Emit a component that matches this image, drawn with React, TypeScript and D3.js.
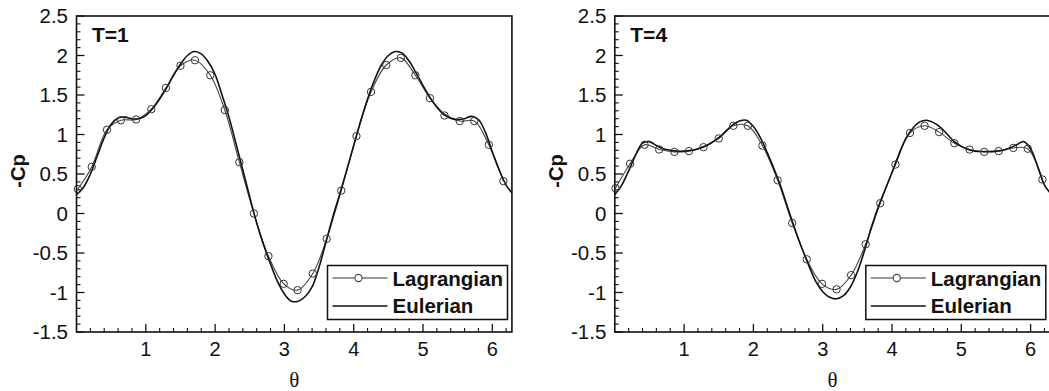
import React from 'react';
import * as d3 from 'd3';

// ---------- data ----------
const THETA_E = [
  0.0, 0.1, 0.2, 0.3, 0.4, 0.5, 0.6, 0.7, 0.8, 0.9,
  1.0, 1.1, 1.2, 1.3, 1.4, 1.5, 1.6, 1.7, 1.8, 1.9,
  2.0, 2.1, 2.2, 2.3, 2.4, 2.5, 2.6, 2.7, 2.8, 2.9,
  3.0, 3.1, 3.2, 3.3, 3.4, 3.5, 3.6, 3.7, 3.8, 3.9,
  4.0, 4.1, 4.2, 4.3, 4.4, 4.5, 4.6, 4.7, 4.8, 4.9,
  5.0, 5.1, 5.2, 5.3, 5.4, 5.5, 5.6, 5.7, 5.8, 5.9,
  6.0, 6.1, 6.2, 6.283,
];

const CP_EULER_T1 = [
  0.24, 0.33, 0.50, 0.73, 0.96, 1.13, 1.21, 1.22, 1.20, 1.20,
  1.24, 1.33, 1.45, 1.59, 1.75, 1.89, 2.00, 2.05, 2.02, 1.92,
  1.76, 1.50, 1.22, 0.89, 0.55, 0.21, -0.12, -0.40, -0.64, -0.86,
  -1.02, -1.11, -1.11, -1.05, -0.93, -0.68, -0.36, -0.04, 0.25, 0.55,
  0.86, 1.17, 1.45, 1.69, 1.88, 2.00, 2.05, 2.03, 1.93, 1.78,
  1.62, 1.47, 1.35, 1.26, 1.21, 1.19, 1.20, 1.23, 1.19, 1.03,
  0.78, 0.55, 0.36, 0.26,
];

const CP_EULER_T4 = [
  0.24, 0.36, 0.54, 0.74, 0.89, 0.91, 0.86, 0.82, 0.80, 0.79,
  0.79, 0.80, 0.82, 0.85, 0.90, 0.96, 1.04, 1.12, 1.17, 1.18,
  1.10, 0.96, 0.77, 0.56, 0.33, 0.06, -0.20, -0.44, -0.66, -0.86,
  -0.99, -1.06, -1.08, -1.04, -0.93, -0.74, -0.48, -0.18, 0.08, 0.30,
  0.52, 0.75, 0.95, 1.08, 1.16, 1.18, 1.15, 1.09, 1.00, 0.91,
  0.85, 0.81, 0.79, 0.785, 0.785, 0.79, 0.80, 0.83, 0.87, 0.91,
  0.82, 0.60, 0.36, 0.26,
];

const THETA_LAG_T1 = [
  0.02, 0.22, 0.44, 0.64, 0.86, 1.08, 1.29, 1.50, 1.71, 1.93,
  2.14, 2.35, 2.56, 2.77, 2.99, 3.19, 3.41, 3.61, 3.82, 4.04,
  4.25, 4.47, 4.68, 4.89, 5.10, 5.31, 5.53, 5.74, 5.95, 6.16,
];
const CP_LAG_T1 = [
  0.31, 0.59, 1.06, 1.18, 1.19, 1.32, 1.59, 1.87, 1.94, 1.75,
  1.31, 0.65, 0.00, -0.54, -0.89, -0.97, -0.76, -0.32, 0.29, 0.98,
  1.54, 1.88, 1.97, 1.75, 1.46, 1.24, 1.17, 1.17, 0.87, 0.41,
];

const THETA_LAG_T4 = [
  0.01, 0.22, 0.43, 0.64, 0.86, 1.07, 1.28, 1.50, 1.71, 1.92,
  2.13, 2.35, 2.56, 2.77, 2.99, 3.20, 3.41, 3.62, 3.83, 4.05,
  4.26, 4.47, 4.68, 4.90, 5.12, 5.33, 5.54, 5.75, 5.96, 6.17,
];
const CP_LAG_T4 = [
  0.32, 0.63, 0.87, 0.81, 0.78, 0.79, 0.84, 0.95, 1.11, 1.11,
  0.86, 0.42, -0.12, -0.58, -0.89, -0.96, -0.78, -0.39, 0.13, 0.62,
  1.02, 1.11, 1.03, 0.89, 0.81, 0.78, 0.79, 0.83, 0.82, 0.43,
];

const Y_TICKS = [-1.5, -1, -0.5, 0, 0.5, 1, 1.5, 2, 2.5];
const Y_TICK_LABELS = ['-1.5', '-1', '-0.5', '0', '0.5', '1', '1.5', '2', '2.5'];
const X_TICKS = [1, 2, 3, 4, 5, 6];
const X_TICK_LABELS = ['1', '2', '3', '4', '5', '6'];
const PANEL_LABELS = ['T=1', 'T=4'];
const SERIES_NAMES = ['Lagrangian', 'Eulerian'];
const X_TITLE = 'θ';
const Y_TITLE = '-Cp';

// ---------- layout ----------
const W = 1049;
const H = 391;
const PW = 2 * Math.PI * 69.3;
const TOP = 16;
const BOTTOM = 332;
const PANEL_X = [76.5, 614.8];
const SANS = '"Liberation Sans", Arial, Helvetica, sans-serif';
const SERIF = '"Liberation Serif", "Times New Roman", serif';

type PanelProps = {
  idx: number;
  x0: number;
  label: string;
  cpE: number[];
  thetaL: number[];
  cpL: number[];
};

function Panel({ idx, x0, label, cpE, thetaL, cpL }: PanelProps) {
  const x = d3.scaleLinear().domain([0, 2 * Math.PI]).range([x0, x0 + PW]);
  const y = d3.scaleLinear().domain([-1.5, 2.5]).range([BOTTOM, TOP]);

  const eData = THETA_E.map((t, i) => [t, cpE[i]] as [number, number]);
  const lData = thetaL.map((t, i) => [t, cpL[i]] as [number, number]);

  const line = d3
    .line<[number, number]>()
    .x((d) => x(d[0]))
    .y((d) => y(d[1]))
    .curve(d3.curveCatmullRom.alpha(0.5));

  const yMinor = d3.range(-1.5, 2.5001, 0.1).filter((v) => Math.abs(v * 2 - Math.round(v * 2)) > 1e-6);
  const xMinor = d3.range(0, 2 * Math.PI, 0.2).filter((v) => Math.abs(v - Math.round(v)) > 1e-6);

  const clipId = `clip-${idx}`;
  const legW = 180;
  const legX = x0 + 251;
  const legY = 265.5;
  const legH = 54;

  return (
    <g>
      <defs>
        <clipPath id={clipId}>
          <rect x={x0} y={TOP} width={PW} height={BOTTOM - TOP} />
        </clipPath>
      </defs>

      {/* curves */}
      <g clipPath={`url(#${clipId})`}>
        <path d={line(lData) || ''} fill="none" stroke="#444" strokeWidth={1.1} />
        <path d={line(eData) || ''} fill="none" stroke="#111" strokeWidth={1.6} />
      </g>
      {lData.map((d, i) => (
        <circle key={i} cx={x(d[0])} cy={y(d[1])} r={3.7} fill="none" stroke="#333" strokeWidth={1} />
      ))}

      {/* frame */}
      <rect x={x0} y={TOP} width={PW} height={BOTTOM - TOP} fill="none" stroke="#111" strokeWidth={1.6} />

      {/* y ticks */}
      {Y_TICKS.map((v, i) => (
        <g key={`yt${i}`}>
          <line x1={x0} x2={x0 + 8} y1={y(v)} y2={y(v)} stroke="#111" strokeWidth={1.3} />
          <text
            x={x0 - 8.5}
            y={y(v)}
            dy="0.36em"
            textAnchor="end"
            fontFamily={SANS}
            fontSize={20.5}
            fill="#111"
          >
            {Y_TICK_LABELS[i]}
          </text>
        </g>
      ))}
      {yMinor.map((v, i) => (
        <line key={`ym${i}`} x1={x0} x2={x0 + 4} y1={y(v)} y2={y(v)} stroke="#111" strokeWidth={1.1} />
      ))}

      {/* x ticks */}
      {X_TICKS.map((v, i) => (
        <g key={`xt${i}`}>
          <line x1={x(v)} x2={x(v)} y1={BOTTOM} y2={BOTTOM - 8} stroke="#111" strokeWidth={1.3} />
          <text x={x(v)} y={356} textAnchor="middle" fontFamily={SANS} fontSize={20} fill="#111">
            {X_TICK_LABELS[i]}
          </text>
        </g>
      ))}
      {xMinor.map((v, i) => (
        <line key={`xm${i}`} x1={x(v)} x2={x(v)} y1={BOTTOM} y2={BOTTOM - 4} stroke="#111" strokeWidth={1.1} />
      ))}

      {/* axis titles */}
      <text x={x0 + PW / 2} y={387} textAnchor="middle" fontFamily={SERIF} fontSize={21} fill="#111">
        {X_TITLE}
      </text>
      <text
        transform={`translate(${x0 - 52},${171}) rotate(-90)`}
        textAnchor="middle"
        fontFamily={SANS}
        fontWeight="bold"
        fontSize={20}
        fill="#111"
      >
        {Y_TITLE}
      </text>

      {/* panel label */}
      <text x={x0 + 15.5} y={41.5} fontFamily={SANS} fontWeight="bold" fontSize={21} fill="#111">
        {label}
      </text>

      {/* legend */}
      <rect x={legX} y={legY} width={legW} height={legH} fill="#fff" stroke="#111" strokeWidth={1.5} />
      <line x1={legX + 5} x2={legX + 60} y1={legY + 12.5} y2={legY + 12.5} stroke="#777" strokeWidth={1.6} />
      <circle cx={legX + 31} cy={legY + 12.5} r={3.6} fill="#fff" stroke="#444" strokeWidth={1.1} />
      <line x1={legX + 5} x2={legX + 60} y1={legY + 40.5} y2={legY + 40.5} stroke="#111" strokeWidth={1.6} />
      <text x={legX + 65} y={legY + 20} fontFamily={SANS} fontWeight="bold" fontSize={20.5} fill="#111">
        {SERIES_NAMES[0]}
      </text>
      <text x={legX + 65} y={legY + 47.5} fontFamily={SANS} fontWeight="bold" fontSize={20.5} fill="#111">
        {SERIES_NAMES[1]}
      </text>
    </g>
  );
}

export default function App() {
  const panels = [
    { cpE: CP_EULER_T1, thetaL: THETA_LAG_T1, cpL: CP_LAG_T1 },
    { cpE: CP_EULER_T4, thetaL: THETA_LAG_T4, cpL: CP_LAG_T4 },
  ];
  return (
    <svg
      width={W}
      height={H}
      viewBox={`0 0 ${W} ${H}`}
      style={{ position: 'absolute', left: 0, top: 0, background: '#fff' }}
    >
      <rect x={0} y={0} width={W} height={H} fill="#fff" />
      {panels.map((p, i) => (
        <Panel
          key={i}
          idx={i}
          x0={PANEL_X[i]}
          label={PANEL_LABELS[i]}
          cpE={p.cpE}
          thetaL={p.thetaL}
          cpL={p.cpL}
        />
      ))}
    </svg>
  );
}
